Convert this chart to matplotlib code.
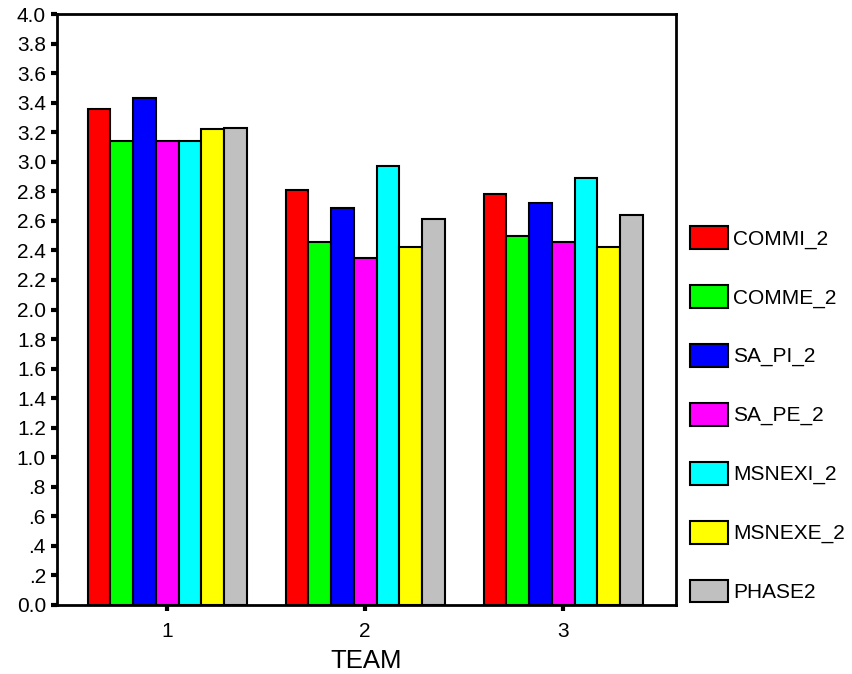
import matplotlib
matplotlib.use("Agg")
import matplotlib.pyplot as plt
import numpy as np

plt.rcParams['font.family'] = ['Liberation Sans', 'DejaVu Sans']

teams = ["1", "2", "3"]
series = ["COMMI_2", "COMME_2", "SA_PI_2", "SA_PE_2", "MSNEXI_2", "MSNEXE_2", "PHASE2"]
colors = ["#ff0000", "#00ff00", "#0000ff", "#ff00ff", "#00ffff", "#ffff00", "#c0c0c0"]
commi_2 = [3.36, 2.81, 2.78]
comme_2 = [3.14, 2.46, 2.50]
sa_pi_2 = [3.43, 2.69, 2.72]
sa_pe_2 = [3.14, 2.35, 2.46]
msnexi_2 = [3.14, 2.97, 2.89]
msnexe_2 = [3.22, 2.42, 2.42]
phase2 = [3.23, 2.61, 2.64]
values = [commi_2, comme_2, sa_pi_2, sa_pe_2, msnexi_2, msnexe_2, phase2]

yticks = np.round(np.arange(0, 4.01, 0.2), 1)
ytick_labels = ["0.0", ".2", ".4", ".6", ".8", "1.0", "1.2", "1.4", "1.6", "1.8", "2.0",
                "2.2", "2.4", "2.6", "2.8", "3.0", "3.2", "3.4", "3.6", "3.8", "4.0"]

fig = plt.figure(figsize=(8.53, 6.74), dpi=100)
ax = fig.add_axes([57/853, 1 - 605/674, (676-57)/853, (605-14)/674])

x = np.arange(1, len(teams) + 1)
n = len(series)
group_w = 0.803
bw = group_w / n
for i, (name, vals, c) in enumerate(zip(series, values, colors)):
    ax.bar(x - group_w/2 + bw*(i + 0.5), vals, width=bw, color=c,
           edgecolor="black", linewidth=1.5, label=name)

ax.set_xlim(0.443, 3.57)
ax.set_ylim(0, 4.0)
ax.set_xticks(x)
ax.set_xticklabels(teams, fontsize=15)
ax.set_yticks(yticks)
ax.set_yticklabels(ytick_labels, fontsize=15)
ax.tick_params(axis='both', direction='out', length=4, width=3, color='black')
ax.tick_params(axis='y', pad=4)
ax.tick_params(axis='x', pad=8)
for s in ax.spines.values():
    s.set_linewidth(2)
    s.set_color('black')
ax.set_xlabel("TEAM", fontsize=18.5, labelpad=6)

fig.legend(loc='upper left', bbox_to_anchor=(690/853, 1 - 226/674), frameon=False,
           fontsize=15, handlelength=1.83, handleheight=1.3, handletextpad=0.25,
           labelspacing=1.74, borderaxespad=0, borderpad=0)

fig.savefig("out.png", dpi=100)
